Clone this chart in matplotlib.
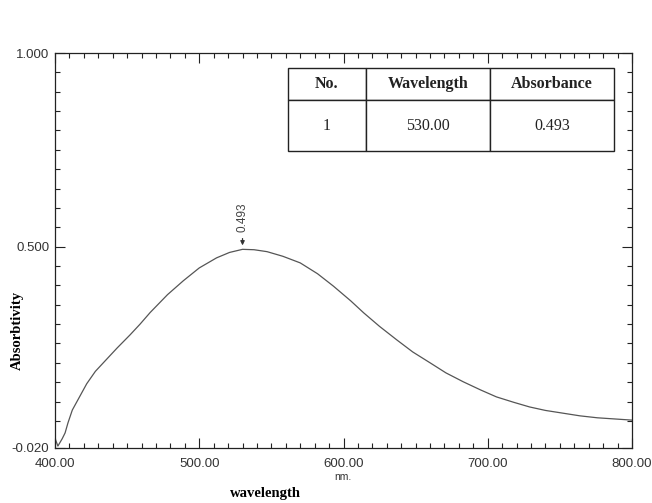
import matplotlib.pyplot as plt
import numpy as np
from matplotlib.ticker import MultipleLocator, FixedLocator

# Spectrum (nm, absorbance)
wavelength = [400, 402, 405, 407, 409, 412, 417, 422, 428, 436, 443, 452,
              459, 466, 478, 489, 500, 512, 521, 530, 538, 547, 558, 570, 582,
              593, 605, 614, 625, 637, 648, 660, 671, 683, 695, 706, 718,
              729, 740, 752, 764, 776, 788, 800]
absorbance = [0.005, -0.015, 0.004, 0.019, 0.045, 0.078, 0.112, 0.146, 0.178,
              0.210, 0.238, 0.272, 0.300, 0.330, 0.376, 0.412, 0.445, 0.471,
              0.485, 0.493, 0.492, 0.487, 0.475, 0.458, 0.430, 0.398, 0.360,
              0.329, 0.294, 0.259, 0.228, 0.200, 0.174, 0.151, 0.130, 0.112,
              0.098, 0.086, 0.077, 0.070, 0.063, 0.058, 0.055, 0.052]

peak_nm = 530.00
peak_abs = 0.493

table_cols = ["No.", "Wavelength", "Absorbance"]
table_row = ["1", "%.2f" % peak_nm, "%.3f" % peak_abs]

y_ticks = [-0.020, 0.500, 1.000]
x_ticks = [400, 500, 600, 700, 800]

fig = plt.figure(figsize=(6.52, 5.03), dpi=100)
ax = fig.add_axes([55 / 652, 1 - 448 / 503, 577 / 652, 395 / 503])

ax.plot(wavelength, absorbance, color="#555555", lw=0.9)
ax.set_xlim(400, 800)
ax.set_ylim(-0.020, 1.000)

ax.xaxis.set_major_locator(FixedLocator(x_ticks))
ax.xaxis.set_minor_locator(MultipleLocator(10))
ax.yaxis.set_major_locator(FixedLocator(y_ticks))
ax.yaxis.set_minor_locator(FixedLocator(np.arange(0.05, 1.0, 0.05)))
ax.set_xticklabels(["%.2f" % v for v in x_ticks])
ax.set_yticklabels(["%.3f" % v for v in y_ticks])

ax.tick_params(which="both", direction="in", top=True, right=True,
               color="#222222", width=0.8)
ax.tick_params(which="major", length=7, labelsize=9.5, labelcolor="#333333",
               pad=4)
ax.tick_params(axis="x", which="major", pad=7)
ax.tick_params(which="minor", length=3.5)
for lab in ax.get_xticklabels() + ax.get_yticklabels():
    lab.set_family("Liberation Sans")
for s in ax.spines.values():
    s.set_linewidth(0.9)
    s.set_color("#222222")

# peak marker
ax.annotate("", xy=(peak_nm, peak_abs + 0.003), xytext=(peak_nm, peak_abs + 0.035),
            arrowprops=dict(arrowstyle="-|>", color="#333333", lw=0.9,
                            mutation_scale=6))
ax.text(peak_nm, peak_abs + 0.045, "%.3f" % peak_abs, rotation=90,
        ha="center", va="bottom", fontsize=8.5, color="#444444",
        family="Liberation Sans")

# result table
tbl = ax.table(cellText=[table_row], colLabels=table_cols,
               bbox=[(288 - 55) / 577, (448 - 151) / 395, 326 / 577, 83 / 395],
               cellLoc="center", colWidths=[78, 124, 124])
tbl.auto_set_font_size(False)
for (r, c), cell in tbl.get_celld().items():
    cell.set_linewidth(1.0)
    cell.set_edgecolor("#222222")
    txt = cell.get_text()
    txt.set_family("Liberation Serif")
    txt.set_fontsize(11.5)
    txt.set_color("#222222")
    if r == 0:
        txt.set_fontweight("bold")
        cell.set_height(0.39)
    else:
        cell.set_height(0.61)

fig.text(343 / 652, 1 - 477 / 503, "nm.", ha="center", va="center",
         fontsize=7.5, color="#333333", family="Liberation Sans")
fig.text(265 / 652, 1 - 493 / 503, "wavelength", ha="center", va="center",
         fontsize=10.5, fontweight="bold", family="Liberation Serif")
fig.text(17 / 652, 1 - 330 / 503, "Absorbtivity", ha="center", va="center",
         rotation=90, fontsize=10.5, fontweight="bold",
         family="Liberation Serif")

fig.savefig("out.png", dpi=100)
